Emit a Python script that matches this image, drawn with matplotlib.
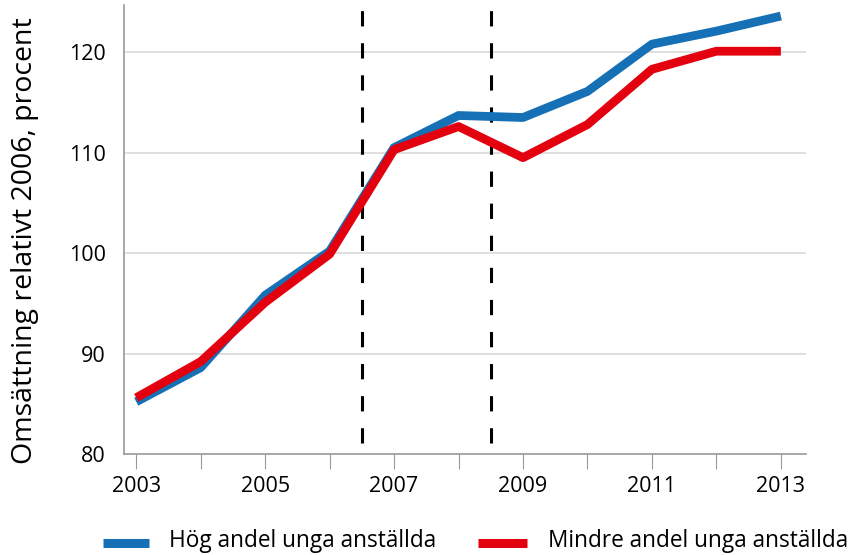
import matplotlib
matplotlib.use("Agg")
import matplotlib.pyplot as plt
from matplotlib.lines import Line2D

years = [2003, 2004, 2005, 2006, 2007, 2008, 2009, 2010, 2011, 2012, 2013]
hog = [85.2, 88.6, 95.8, 100.2, 110.5, 113.7, 113.5, 116.1, 120.8, 122.1, 123.6]
mindre = [85.6, 89.2, 95.1, 99.9, 110.3, 112.6, 109.5, 112.8, 118.3, 120.1, 120.1]
labels = ["Hög andel unga anställda", "Mindre andel unga anställda"]
vlines_x = [2006.5, 2008.5]
yticks = [80, 90, 100, 110, 120]
xticklabels = ["2003", "", "2005", "", "2007", "", "2009", "", "2011", "", "2013"]

plt.rcParams['font.family'] = ['Open Sans', 'DejaVu Sans']

W, H = 856, 555
fig = plt.figure(figsize=(W/100, H/100), dpi=100)
ax = fig.add_axes([124/W, 1-454/H, (806-124)/W, (454-5)/H])

blue = '#1570b5'
red = '#e3000f'

ax.set_xlim(2002.81, 2013.39)
ax.set_ylim(80, 124.7)

for y in yticks[1:]:
    ax.axhline(y, color='#d9d9d9', lw=1.2, zorder=0)

ax.vlines(vlines_x, 81.1, 124.4, colors='black', linestyles=(0, (5, 5.5)), lw=2.2, zorder=1)

ax.plot(years, hog, color=blue, lw=6.3, solid_capstyle='butt', zorder=2)
ax.plot(years, mindre, color=red, lw=6.3, solid_capstyle='butt', zorder=3)

ax.set_yticks(yticks)
ax.set_yticklabels([str(v) for v in yticks], fontsize=15.5)
ax.tick_params(axis='y', length=0, pad=13)
ax.set_xticks(years)
ax.set_xticklabels(xticklabels, fontsize=15.5)
ax.tick_params(axis='x', length=11, width=0.8, color='#999999', pad=5)

for s in ['top', 'right']:
    ax.spines[s].set_visible(False)
for s in ['left', 'bottom']:
    ax.spines[s].set_color('#999999')
    ax.spines[s].set_linewidth(1.2)

fig.text(25/W, 1-241/H, "Omsättning relativt 2006, procent", rotation=90,
         ha='center', va='center', fontsize=20.5)

# legend
colors = [blue, red]
patch_x = [(103, 149), (478, 527)]
text_x = [169, 548]
ly = 1-542.5/H
for c, (x0, x1), tx, lab in zip(colors, patch_x, text_x, labels):
    fig.add_artist(Line2D([x0/W, x1/W], [ly, ly], color=c, lw=6.5,
                          solid_capstyle='butt', transform=fig.transFigure))
    fig.text(tx/W, 1-541/H, lab, ha='left', va='center', fontsize=16.3)

fig.savefig("out.png", dpi=100)
